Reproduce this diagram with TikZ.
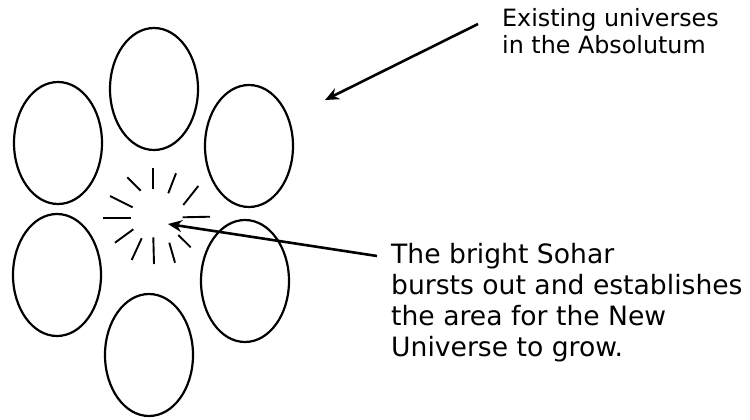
\documentclass[tikz,border=0pt]{standalone}
\usepackage{fontspec}
\setmainfont{DejaVu Sans}
\usetikzlibrary{shapes.geometric, arrows.meta, calc}

\begin{document}
\begin{tikzpicture}[
    x=1pt, y=-1pt,
    >=Stealth,
    universe/.style={draw, ellipse, line width=2.2pt, minimum width=88pt, minimum height=122pt, inner sep=0pt},
    ray/.style={line width=1.9pt},
    pointer/.style={->, line width=2.6pt, >={Stealth[length=14pt, width=12pt]}},
    notetext/.style={align=left, inner sep=0pt, anchor=north west}
]

\useasboundingbox (0,0) rectangle (750,420);

% Existing universes
\node[universe] (utop) at (154, 89) {};
\node[universe] (uupleft) at (58, 143) {};
\node[universe] (uupright) at (249, 146) {};
\node[universe] (ulowleft) at (57, 275) {};
\node[universe] (ulowright) at (245, 281) {};
\node[universe] (ubottom) at (149, 355) {};

% Bright Sohar bursting out
\foreach \xa/\ya/\xb/\yb in {152.7/168.3/152.7/189.3, 127.3/177.3/140.7/190.7,
    176/173.3/168.3/193.3, 198.3/186/183.3/205, 110/196/132.7/207.3,
    103.3/218.3/130.7/218.3, 182.7/217.3/210/216.7, 115/242.7/133.3/229.3,
    131.7/260/141.7/238.3, 153.3/237.3/154/264, 169.3/242.7/175/262.7,
    178.3/235/190.7/247.3}
    \draw[ray] (\xa,\ya) -- (\xb,\yb);
\coordinate (spark) at (168, 224);
\coordinate (gap) at (325, 100);

% Labels
\node[notetext, font=\fontsize{23.8}{26.7}\selectfont] (existing) at (502, 8.5)
    {Existing universes\\in the Absolutum};
\node[notetext, font=\fontsize{26.6}{31}\selectfont] (sohar) at (391, 243.5)
    {The bright Sohar\\bursts out and establishes\\the area for the New\\Universe to grow.};

% Pointers
\draw[pointer] ($(existing.north west)+(-24,15.5)$) -- (gap);
\draw[pointer] ($(sohar.north west)+(-14,12.5)$) -- (spark);

\end{tikzpicture}
\end{document}
